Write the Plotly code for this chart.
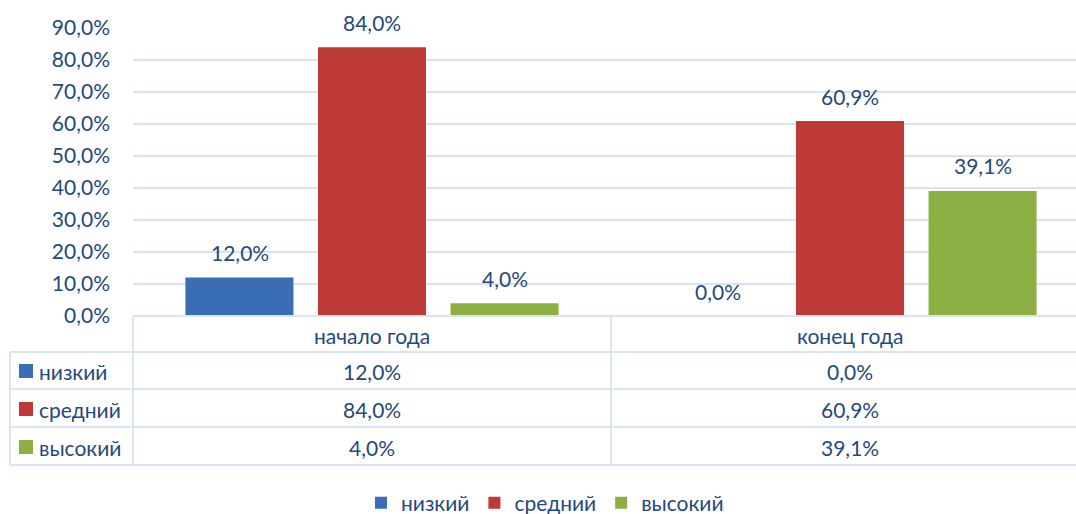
import plotly.graph_objects as go

categories = ["начало года", "конец года"]
series_names = ["низкий", "средний", "высокий"]
low = [0.12, 0.0]
mid = [0.84, 0.609]
high = [0.04, 0.391]
series_values = [low, mid, high]
colors = ["#3A6EB4", "#BE3A36", "#8DB045"]
y_ticks = [0, 0.1, 0.2, 0.3, 0.4, 0.5, 0.6, 0.7, 0.8, 0.9]

TXT = "#24497B"
FONT = "Lato"
FS = 21
GRID = "#D9E3F1"

W, H = 1076, 514
L, R, T, B = 133, 0, 28, 198
PW, PH = W - L - R, H - T - B
CATW = 478.0   # pixel width of one category
SLOT = 132.5   # pixel spacing of bars within a group


def px(xp):
    return (xp - L) / PW


def py(yp):
    return (H - B - yp) / PH


def fmt(v):
    return f"{v*100:.1f}%".replace(".", ",")


fig = go.Figure()
for name, vals, col in zip(series_names, series_values, colors):
    fig.add_trace(go.Bar(
        x=categories, y=vals, name=name,
        marker=dict(color=col, line=dict(width=0)),
    ))

shapes = []
line = dict(color=GRID, width=2)
for yp in [352, 389, 427, 465]:
    shapes.append(dict(type="line", xref="paper", yref="paper",
                       x0=px(10), x1=px(1076), y0=py(yp), y1=py(yp), line=line))
shapes.append(dict(type="line", xref="paper", yref="paper",
                   x0=px(133), x1=px(1076), y0=py(316), y1=py(316), line=line))
for xp in [133, 611]:
    shapes.append(dict(type="line", xref="paper", yref="paper",
                       x0=px(xp), x1=px(xp), y0=py(316), y1=py(465), line=line))
shapes.append(dict(type="line", xref="paper", yref="paper",
                   x0=px(10), x1=px(10), y0=py(352), y1=py(465), line=line))

annotations = []
row_centers = [371, 409, 447]
font = dict(color=TXT, size=FS, family=FONT)
for i, (name, vals, col) in enumerate(zip(series_names, series_values, colors)):
    yc = row_centers[i]
    shapes.append(dict(type="rect", xref="paper", yref="paper",
                       x0=px(19), x1=px(33), y0=py(yc - 7), y1=py(yc + 7),
                       fillcolor=col, line=dict(width=0)))
    annotations.append(dict(xref="paper", yref="paper", x=px(37), y=py(yc),
                            text=name, showarrow=False, xanchor="left", yanchor="middle",
                            font=font))
    for c, v in zip(categories, vals):
        annotations.append(dict(xref="x", yref="paper", x=c, y=py(yc),
                                text=fmt(v), showarrow=False, xanchor="center", yanchor="middle",
                                font=font))
        annotations.append(dict(xref="x", yref="y", x=c, y=v, text=fmt(v),
                                showarrow=False, xanchor="center", yanchor="middle",
                                xshift=(i - 1) * SLOT, yshift=25, font=font))
for c in categories:
    annotations.append(dict(xref="x", yref="paper", x=c, y=py(335),
                            text=c, showarrow=False, xanchor="center", yanchor="middle",
                            font=font))

fig.update_layout(
    width=W, height=H,
    margin=dict(l=L, r=R, t=T, b=B, autoexpand=False),
    paper_bgcolor="white", plot_bgcolor="white",
    separators=", ",
    barmode="group", bargap=0.168, bargroupgap=0.185,
    font=dict(family=FONT, color=TXT, size=FS),
    xaxis=dict(showticklabels=False, showgrid=False, zeroline=False, showline=False,
               ticks="", automargin=False, range=[-0.5, -0.5 + PW / CATW]),
    yaxis=dict(range=[0, 0.9], tickvals=y_ticks, tickformat=".1%",
               showgrid=True, gridcolor=GRID, gridwidth=1.5, zeroline=False,
               showline=False, ticks="", ticklabelstandoff=22, automargin=False,
               tickfont=font),
    legend=dict(orientation="h", x=px(545), xanchor="center",
                yref="container", y=(H - 503) / H, yanchor="middle",
                font=font, itemsizing="constant", traceorder="normal"),
    shapes=shapes, annotations=annotations,
)

post = "document.body.style.margin='0';"
fig.write_html("out.html", post_script=post, config={"displayModeBar": False})
